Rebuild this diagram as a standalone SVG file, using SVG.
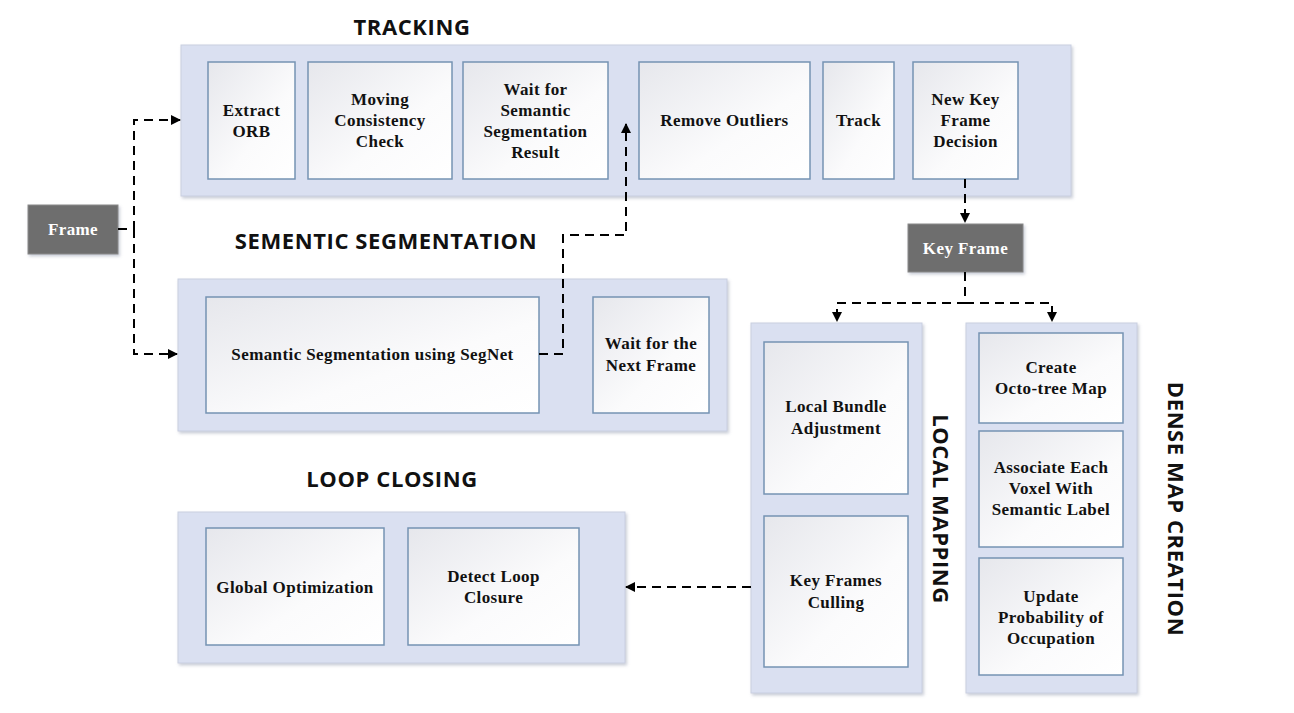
<svg xmlns="http://www.w3.org/2000/svg" width="1294" height="713" viewBox="0 0 1294 713">
<defs>
<linearGradient id="boxg" x1="0" y1="0" x2="1" y2="1">
<stop offset="0" stop-color="#e6e7ec"/>
<stop offset="0.6" stop-color="#fbfbfc"/>
<stop offset="1" stop-color="#ffffff"/>
</linearGradient>
<filter id="sh" x="-10%" y="-10%" width="130%" height="130%">
<feDropShadow dx="1.5" dy="2" stdDeviation="1.5" flood-color="#8a93a8" flood-opacity="0.45"/>
</filter>
<marker id="ah" viewBox="0 0 10 10" refX="9" refY="5" markerWidth="10" markerHeight="10" markerUnits="userSpaceOnUse" orient="auto">
<path d="M0,0 L10,5 L0,10 z" fill="#000"/>
</marker>
<style>
.cont{fill:#dae0f1;stroke:#c9cfe0;stroke-width:1;filter:url(#sh)}
.box{fill:url(#boxg);stroke:#7593b3;stroke-width:1.5}
.dark{fill:#6e6e6e;stroke:#8a8a8a;stroke-width:1;filter:url(#sh)}
.t{font-family:"Liberation Serif","Times New Roman",serif;font-weight:bold;font-size:17px;letter-spacing:0.4px;fill:#111;text-anchor:middle;dominant-baseline:central}
.tw{font-family:"Liberation Serif","Times New Roman",serif;font-weight:bold;font-size:17px;letter-spacing:0.4px;fill:#fff;text-anchor:middle;dominant-baseline:central}
.title{font-family:"Open Sans","Noto Sans",sans-serif;font-weight:bold;font-size:22px;letter-spacing:0.6px;fill:#111;text-anchor:middle;dominant-baseline:central}
.dl{fill:none;stroke:#000;stroke-width:2;stroke-dasharray:9 6}
</style>
</defs>
<rect width="1294" height="713" fill="#fff"/>

<g id="tracking">
<text class="title" x="412" y="26">TRACKING</text>
<rect class="cont" x="181" y="45" width="890" height="151"/>
</g>
<g id="extract-orb"><rect class="box" x="208" y="62" width="87" height="117"/><text class="t" x="251.5" y="110">Extract</text><text class="t" x="251.5" y="131">ORB</text></g>
<g id="moving-consistency"><rect class="box" x="308" y="62" width="144" height="117"/><text class="t" x="380" y="99">Moving</text><text class="t" x="380" y="120">Consistency</text><text class="t" x="380" y="141">Check</text></g>
<g id="wait-semantic"><rect class="box" x="463" y="62" width="145" height="117"/><text class="t" x="535.5" y="89">Wait for</text><text class="t" x="535.5" y="110">Semantic</text><text class="t" x="535.5" y="131">Segmentation</text><text class="t" x="535.5" y="152">Result</text></g>
<g id="remove-outliers"><rect class="box" x="639" y="62" width="171" height="117"/><text class="t" x="724.5" y="120">Remove Outliers</text></g>
<g id="track"><rect class="box" x="823" y="62" width="71" height="117"/><text class="t" x="858.5" y="120">Track</text></g>
<g id="new-key-frame"><rect class="box" x="913" y="62" width="105" height="117"/><text class="t" x="965.5" y="99">New Key</text><text class="t" x="965.5" y="120">Frame</text><text class="t" x="965.5" y="141">Decision</text></g>

<g id="frame"><rect class="dark" x="28" y="205" width="90" height="49"/><text class="tw" x="73" y="229">Frame</text></g>

<g id="semantic-segmentation">
<text class="title" x="386" y="240">SEMENTIC SEGMENTATION</text>
<rect class="cont" x="178" y="279" width="549" height="152"/>
</g>
<g id="segnet"><rect class="box" x="206" y="297" width="333" height="116"/><text class="t" x="372.5" y="354">Semantic Segmentation using SegNet</text></g>
<g id="wait-next"><rect class="box" x="593" y="297" width="116" height="116"/><text class="t" x="651" y="343">Wait for the</text><text class="t" x="651" y="365">Next Frame</text></g>

<g id="key-frame"><rect class="dark" x="908" y="224" width="115" height="48"/><text class="tw" x="965.5" y="248">Key Frame</text></g>

<g id="local-mapping">
<rect class="cont" x="751" y="323" width="171" height="370"/>
<text class="title" transform="translate(942,509) rotate(90)" x="0" y="0">LOCAL MAPPING</text>
</g>
<g id="local-ba"><rect class="box" x="764" y="342" width="144" height="152"/><text class="t" x="836" y="406">Local Bundle</text><text class="t" x="836" y="428">Adjustment</text></g>
<g id="kf-culling"><rect class="box" x="764" y="516" width="144" height="151"/><text class="t" x="836" y="580">Key Frames</text><text class="t" x="836" y="602">Culling</text></g>

<g id="dense-map">
<rect class="cont" x="966" y="323" width="171" height="370"/>
<text class="title" transform="translate(1177,509) rotate(90)" x="0" y="0">DENSE MAP CREATION</text>
</g>
<g id="octo-tree"><rect class="box" x="979" y="333" width="144" height="90"/><text class="t" x="1051" y="367">Create</text><text class="t" x="1051" y="388">Octo-tree Map</text></g>
<g id="associate"><rect class="box" x="979" y="431" width="144" height="116"/><text class="t" x="1051" y="467">Associate Each</text><text class="t" x="1051" y="488">Voxel With</text><text class="t" x="1051" y="509">Semantic Label</text></g>
<g id="update-prob"><rect class="box" x="979" y="558" width="144" height="117"/><text class="t" x="1051" y="596">Update</text><text class="t" x="1051" y="617">Probability of</text><text class="t" x="1051" y="638">Occupation</text></g>

<g id="loop-closing">
<text class="title" x="392" y="478">LOOP CLOSING</text>
<rect class="cont" x="178" y="512" width="447" height="151"/>
</g>
<g id="global-opt"><rect class="box" x="206" y="528" width="178" height="117"/><text class="t" x="295" y="587">Global Optimization</text></g>
<g id="detect-loop"><rect class="box" x="408" y="528" width="171" height="117"/><text class="t" x="493.5" y="576">Detect Loop</text><text class="t" x="493.5" y="597">Closure</text></g>

<g id="connectors">
<path class="dl" d="M118,229 H134 V120 H180" marker-end="url(#ah)"/>
<path class="dl" d="M134,229 V354 H177" marker-end="url(#ah)"/>
<path class="dl" d="M539,354 H563 V235 H626 V124" marker-end="url(#ah)"/>
<path class="dl" d="M965,179 V222" marker-end="url(#ah)"/>
<path class="dl" d="M965,272 V303 H837 V321" marker-end="url(#ah)"/>
<path class="dl" d="M965,303 H1052 V321" marker-end="url(#ah)"/>
<path class="dl" d="M751,587 H626" marker-end="url(#ah)"/>
</g>
</svg>
